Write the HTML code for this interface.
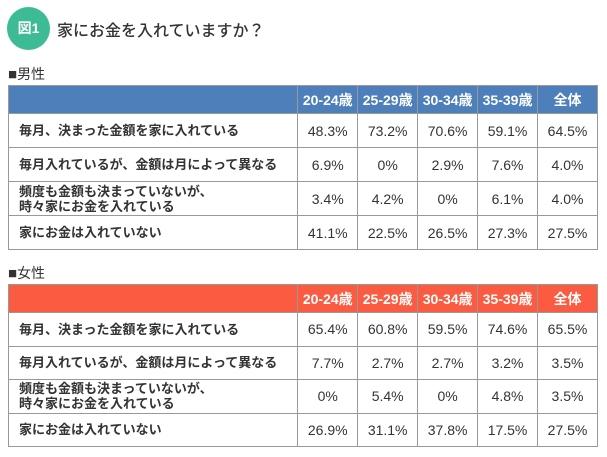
<!DOCTYPE html>
<html><head><meta charset="utf-8"><style>
*{margin:0;padding:0;box-sizing:border-box}
body{width:607px;height:457px;background:#fff;font-family:"Liberation Sans","Noto Sans CJK JP",sans-serif;color:#333;position:relative;overflow:hidden}
.circ{position:absolute;left:7px;top:7px;width:43px;height:43px;border-radius:50%;background:#3dbb95;color:#fff;font-weight:bold;font-size:14px;text-align:center;line-height:43px}
.title{position:absolute;left:57px;top:17px;font-size:16px;font-weight:500;color:#333}
.sec{position:absolute;left:8px;font-size:14px;color:#333}
.sec b{font-size:15px;font-weight:normal}
table{position:absolute;left:8px;width:590px;border-collapse:collapse;font-size:14px}
td,th{border:1px solid #999;text-align:center}
th{color:#fff;font-weight:bold;height:28px;font-size:14px}
td{height:34px}
td.l{text-align:left;padding-left:10px;font-weight:bold;font-size:13px;line-height:15px}
.m th{background:#4d7fbb}
.f th{background:#fb5b40}
.f td{height:33.5px}
</style></head><body>
<div class="circ">図1</div>
<div class="title">家にお金を入れていますか？</div>
<div class="sec" style="top:64px"><b>■</b>男性</div>
<table class="m" style="top:85px">
<colgroup><col style="width:290px"><col style="width:60px"><col style="width:60px"><col style="width:60px"><col style="width:60px"><col style="width:60px"></colgroup>
<tr><th></th><th>20-24歳</th><th>25-29歳</th><th>30-34歳</th><th>35-39歳</th><th>全体</th></tr>
<tr><td class="l">毎月、決まった金額を家に入れている</td><td>48.3%</td><td>73.2%</td><td>70.6%</td><td>59.1%</td><td>64.5%</td></tr>
<tr><td class="l">毎月入れているが、金額は月によって異なる</td><td>6.9%</td><td>0%</td><td>2.9%</td><td>7.6%</td><td>4.0%</td></tr>
<tr><td class="l">頻度も金額も決まっていないが、<br>時々家にお金を入れている</td><td>3.4%</td><td>4.2%</td><td>0%</td><td>6.1%</td><td>4.0%</td></tr>
<tr><td class="l">家にお金は入れていない</td><td>41.1%</td><td>22.5%</td><td>26.5%</td><td>27.3%</td><td>27.5%</td></tr>
</table>
<div class="sec" style="top:263px"><b>■</b>女性</div>
<table class="f" style="top:284px">
<colgroup><col style="width:290px"><col style="width:60px"><col style="width:60px"><col style="width:60px"><col style="width:60px"><col style="width:60px"></colgroup>
<tr><th></th><th>20-24歳</th><th>25-29歳</th><th>30-34歳</th><th>35-39歳</th><th>全体</th></tr>
<tr><td class="l">毎月、決まった金額を家に入れている</td><td>65.4%</td><td>60.8%</td><td>59.5%</td><td>74.6%</td><td>65.5%</td></tr>
<tr><td class="l">毎月入れているが、金額は月によって異なる</td><td>7.7%</td><td>2.7%</td><td>2.7%</td><td>3.2%</td><td>3.5%</td></tr>
<tr><td class="l">頻度も金額も決まっていないが、<br>時々家にお金を入れている</td><td>0%</td><td>5.4%</td><td>0%</td><td>4.8%</td><td>3.5%</td></tr>
<tr><td class="l">家にお金は入れていない</td><td>26.9%</td><td>31.1%</td><td>37.8%</td><td>17.5%</td><td>27.5%</td></tr>
</table>
</body></html>
